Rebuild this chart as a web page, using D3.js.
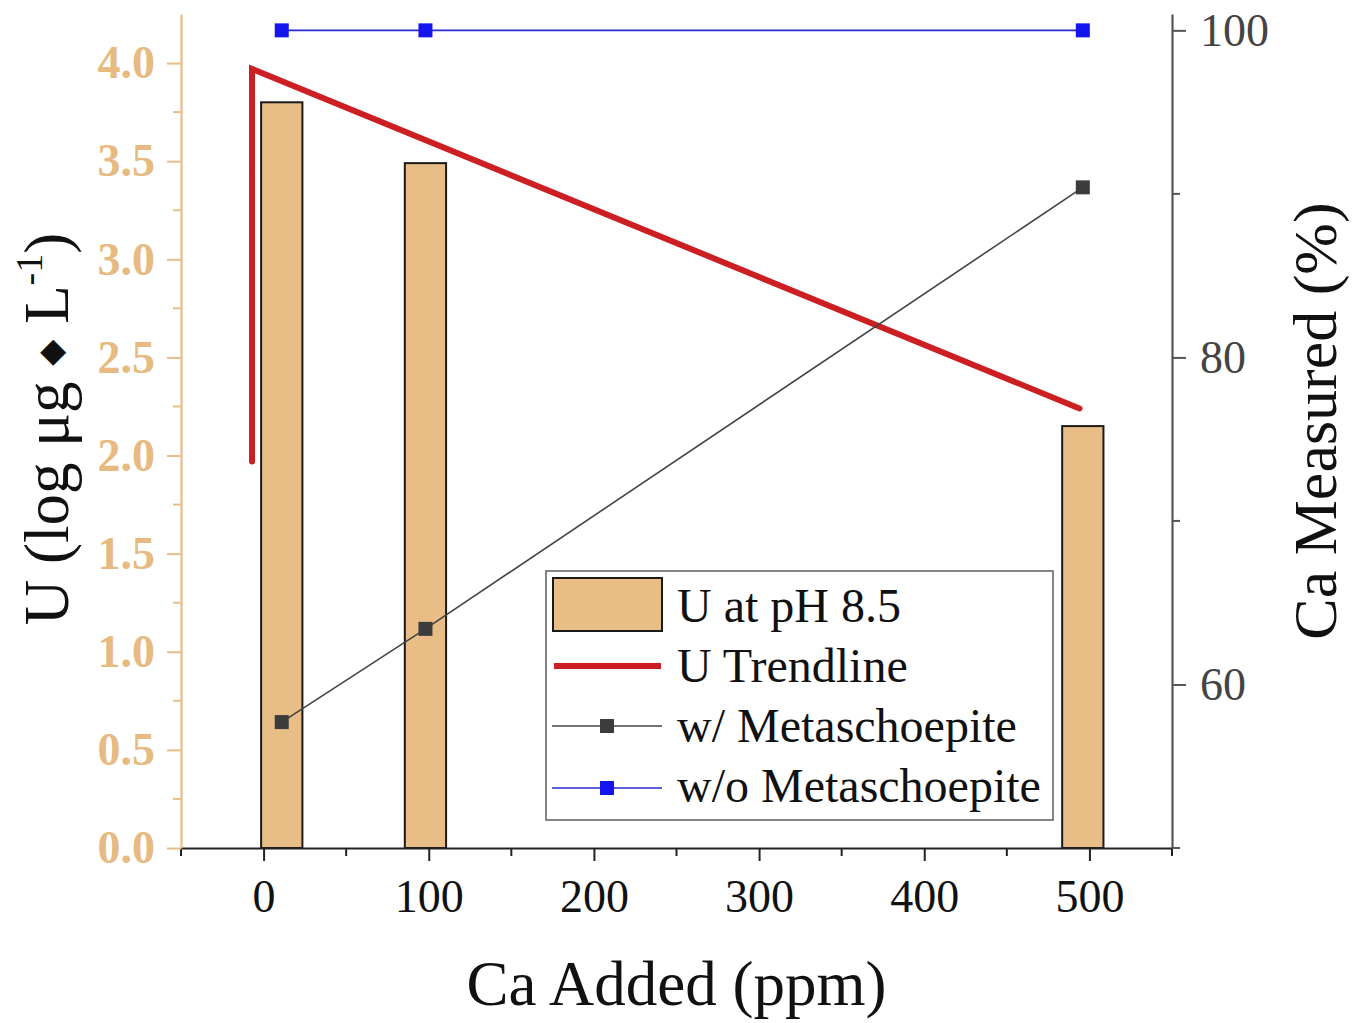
<!DOCTYPE html>
<html>
<head>
<meta charset="utf-8">
<script src="https://cdn.jsdelivr.net/npm/d3@7"></script>
<style>
  html, body { margin: 0; padding: 0; background: #fff; }
  svg text { font-family: "Liberation Serif", "Times New Roman", serif; }
</style>
</head>
<body>
<div id="chart"></div>
<script>
// data
const caAdded = [11, 98, 496];          // x position of bars / measured points (ppm)
const uLog = [3.80, 3.49, 2.15];        // U at pH 8.5, log ug/L (left axis)
const trendX = [-7, -7, 494];
const trendY = [1.97, 3.97, 2.24];      // U trendline (left axis)
const caWithMeta = [57.7, 63.4, 90.4];  // Ca measured %, w/ metaschoepite (right axis)
const caWithoutMeta = [100, 100, 100];  // w/o metaschoepite
const xMajorTicks = [0, 100, 200, 300, 400, 500];
const xMinorTicks = [-50, 50, 150, 250, 350, 450, 550];
const leftTicks = [0, 0.5, 1, 1.5, 2, 2.5, 3, 3.5, 4];
const leftMinor = [0.25, 0.75, 1.25, 1.75, 2.25, 2.75, 3.25, 3.75];
const rightTicks = [60, 80, 100];
const rightMinor = [50, 70, 90];
const legendLabels = ["U at pH 8.5", "U Trendline", "w/ Metaschoepite", "w/o Metaschoepite"];

const width = 1366, height = 1023;
const plot = { left: 181, right: 1172, top: 14, bottom: 848 };
const tan = "#E8BD86", tanText = "#E6BA80";
const red = "#CC1F24", gray = "#3c3c3c", blue = "#1414EE";

const svg = d3.select("#chart").append("svg")
    .attr("width", width)
    .attr("height", height);

const x = d3.scaleLinear().domain([-50, 550]).range([plot.left, plot.right]);
const yL = d3.scaleLinear().domain([0, 4.25]).range([plot.bottom, plot.top]);
const yR = d3.scaleLinear().domain([50, 101]).range([plot.bottom, plot.top]);

const barW = x(25) - x(0);

// bars
svg.append("g").selectAll("rect")
    .data(caAdded.map((c, i) => ({ c, v: uLog[i] })))
    .join("rect")
    .attr("x", d => x(d.c) - barW / 2)
    .attr("y", d => yL(d.v))
    .attr("width", barW)
    .attr("height", d => yL(0) - yL(d.v))
    .attr("fill", tan)
    .attr("stroke", "#1a1a1a")
    .attr("stroke-width", 2);

// trendline
svg.append("path")
    .datum(trendX.map((t, i) => [t, trendY[i]]))
    .attr("fill", "none")
    .attr("stroke", red)
    .attr("stroke-width", 6)
    .attr("stroke-linejoin", "miter")
    .attr("stroke-linecap", "round")
    .attr("d", d3.line().x(d => x(d[0])).y(d => yL(d[1])));

// measured Ca series
function drawSeries(vals, lineColor, markColor, lw) {
    const pts = caAdded.map((c, i) => [c, vals[i]]);
    svg.append("path")
        .datum(pts)
        .attr("fill", "none")
        .attr("stroke", lineColor)
        .attr("stroke-width", lw)
        .attr("d", d3.line().x(d => x(d[0])).y(d => yR(d[1])));
    svg.append("g").selectAll("rect")
        .data(pts)
        .join("rect")
        .attr("x", d => x(d[0]) - 7)
        .attr("y", d => yR(d[1]) - 7)
        .attr("width", 14)
        .attr("height", 14)
        .attr("fill", markColor);
}
drawSeries(caWithMeta, "#444", gray, 1.6);
drawSeries(caWithoutMeta, "#2a2ad0", blue, 1.6);

// axes
const xAxis = svg.append("g")
    .attr("transform", `translate(0,${plot.bottom})`)
    .call(d3.axisBottom(x).tickValues(xMajorTicks).tickSize(13).tickPadding(18).tickSizeOuter(0));
xAxis.append("g").selectAll("line").data(xMinorTicks).join("line")
    .attr("x1", d => x(d)).attr("x2", d => x(d))
    .attr("y1", 0).attr("y2", 8)
    .attr("stroke", "#222").attr("stroke-width", 2);
xAxis.select(".domain").attr("stroke", "#222").attr("stroke-width", 2.2);
xAxis.selectAll(".tick line").attr("stroke", "#222").attr("stroke-width", 2);
xAxis.selectAll(".tick text")
    .attr("fill", "#111")
    .style("font-size", "46px")
    .style("font-family", "Liberation Serif");

const yLAxis = svg.append("g")
    .attr("transform", `translate(${plot.left},0)`)
    .call(d3.axisLeft(yL).tickValues(leftTicks).tickFormat(d3.format(".1f"))
        .tickSize(14).tickPadding(12).tickSizeOuter(0));
yLAxis.append("g").selectAll("line").data(leftMinor).join("line")
    .attr("y1", d => yL(d)).attr("y2", d => yL(d))
    .attr("x1", 0).attr("x2", -8)
    .attr("stroke", tan).attr("stroke-width", 2);
yLAxis.select(".domain").attr("stroke", tan).attr("stroke-width", 2.2);
yLAxis.selectAll(".tick line").attr("stroke", tan).attr("stroke-width", 2);
yLAxis.selectAll(".tick text")
    .attr("fill", tanText)
    .style("font-size", "46px")
    .style("font-weight", "bold")
    .style("font-family", "Liberation Serif");

const yRAxis = svg.append("g")
    .attr("transform", `translate(${plot.right},0)`)
    .call(d3.axisRight(yR).tickValues(rightTicks).tickSize(14).tickPadding(14).tickSizeOuter(0));
yRAxis.append("g").selectAll("line").data(rightMinor).join("line")
    .attr("y1", d => yR(d)).attr("y2", d => yR(d))
    .attr("x1", 0).attr("x2", 8)
    .attr("stroke", "#555").attr("stroke-width", 2);
yRAxis.select(".domain").attr("stroke", "#555").attr("stroke-width", 2.2);
yRAxis.selectAll(".tick line").attr("stroke", "#555").attr("stroke-width", 2);
yRAxis.selectAll(".tick text")
    .attr("fill", "#444")
    .style("font-size", "46px")
    .style("font-family", "Liberation Serif");

// axis titles
svg.append("text")
    .attr("x", (plot.left + plot.right) / 2)
    .attr("y", 1005)
    .attr("text-anchor", "middle")
    .style("font-size", "63px")
    .attr("fill", "#111")
    .text("Ca Added (ppm)");

const lt = svg.append("text")
    .attr("transform", `translate(68,429) rotate(-90)`)
    .attr("text-anchor", "middle")
    .style("font-size", "63px")
    .attr("fill", "#111");
lt.append("tspan").text("U (log μg ");
lt.append("tspan").text("◆").style("font-size", "34px").style("font-family", "DejaVu Sans").attr("dy", -6);
lt.append("tspan").text(" L").attr("dy", 6);
lt.append("tspan").text("-1").style("font-size", "38px").attr("dy", -26);
lt.append("tspan").text(")").attr("dy", 26);

svg.append("text")
    .attr("transform", `translate(1336,421) rotate(-90)`)
    .attr("text-anchor", "middle")
    .style("font-size", "62px")
    .attr("fill", "#111")
    .text("Ca Measured (%)");

// legend
const lg = svg.append("g").attr("transform", "translate(546,571)");
lg.append("rect")
    .attr("width", 507).attr("height", 249)
    .attr("fill", "#fff").attr("stroke", "#666").attr("stroke-width", 1.6);
lg.append("rect")
    .attr("x", 7).attr("y", 7).attr("width", 109).attr("height", 53)
    .attr("fill", tan).attr("stroke", "#1a1a1a").attr("stroke-width", 2);
lg.append("line")
    .attr("x1", 8).attr("x2", 115).attr("y1", 95).attr("y2", 95)
    .attr("stroke", red).attr("stroke-width", 6);
[["#444", gray, 155], ["#2a2ad0", blue, 217]].forEach(([lc, mc, yy]) => {
    lg.append("line")
        .attr("x1", 6).attr("x2", 116).attr("y1", yy).attr("y2", yy)
        .attr("stroke", lc).attr("stroke-width", 1.6);
    lg.append("rect")
        .attr("x", 61 - 7).attr("y", yy - 7).attr("width", 14).attr("height", 14)
        .attr("fill", mc);
});
lg.selectAll("text.lab")
    .data(legendLabels)
    .join("text")
    .attr("class", "lab")
    .attr("x", 131)
    .attr("y", (d, i) => 51 + i * 60)
    .style("font-size", "48px")
    .attr("fill", "#111")
    .text(d => d);
</script>
</body>
</html>
